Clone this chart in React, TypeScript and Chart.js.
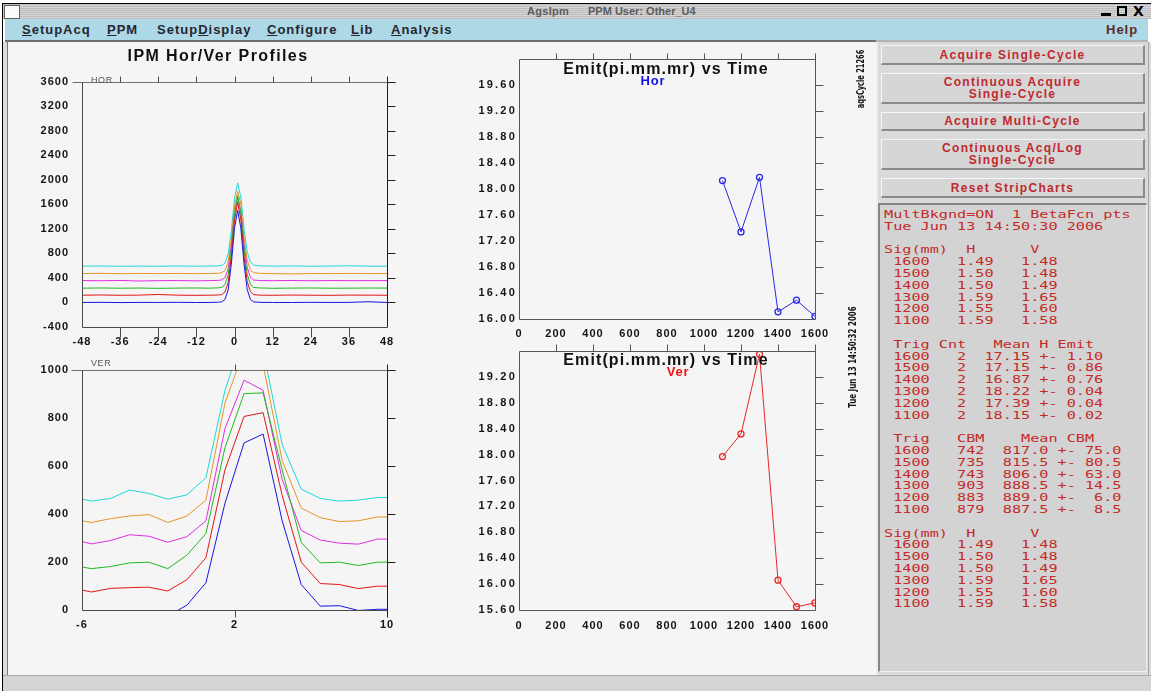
import React, { useEffect, useRef } from 'react';
import { Chart, registerables } from 'chart.js';

Chart.register(...registerables);

// ---------------- data ----------------
const HOR_X = [-48, -42, -36, -30, -24, -18, -12, -8, -5, -4, -3, -2, -1, 0, 1, 2, 3, 4, 5, 6, 8, 12, 18, 24, 30, 36, 42, 48];
const HOR_CYAN = [592, 594, 590, 593, 591, 594, 592, 593, 597, 605, 640, 790, 1160, 1700, 1950, 1720, 1200, 820, 660, 610, 596, 592, 595, 591, 593, 598, 592, 592];
const HOR_ORANGE = [471, 475, 468, 474, 470, 473, 469, 472, 476, 485, 520, 660, 1030, 1560, 1815, 1600, 1050, 690, 530, 485, 474, 470, 466, 471, 469, 474, 470, 471];
const HOR_MAGENTA = [356, 354, 358, 350, 355, 357, 352, 356, 360, 368, 405, 550, 920, 1450, 1710, 1470, 940, 570, 410, 366, 357, 355, 358, 354, 357, 355, 356, 356];
const HOR_GREEN = [233, 236, 232, 235, 230, 234, 236, 233, 238, 248, 290, 450, 860, 1450, 1740, 1460, 870, 460, 295, 245, 236, 231, 234, 236, 232, 233, 235, 234];
const HOR_RED = [118, 122, 117, 120, 130, 119, 116, 118, 122, 128, 170, 325, 745, 1335, 1630, 1350, 750, 340, 175, 128, 119, 117, 121, 118, 116, 120, 119, 118];
const HOR_BLUE = [0, 2, -2, 1, 0, 2, -1, 0, 4, 10, 48, 205, 625, 1210, 1500, 1210, 630, 210, 50, 10, 2, 0, -1, 2, 0, 1, 12, 0];

const VER_X = [-6, -5.5, -4.5, -3.5, -2.5, -1.5, -0.5, 0.5, 1.5, 2.5, 3.5, 4.5, 5.5, 6.5, 7.5, 8.5, 9.5, 10];
const VER_CYAN = [461, 453, 464, 499, 485, 461, 479, 550, 914, 1150, 1081, 689, 503, 464, 453, 457, 468, 468];
const VER_ORANGE = [371, 364, 380, 391, 397, 364, 391, 457, 861, 1080, 1020, 622, 424, 384, 368, 371, 387, 387];
const VER_MAGENTA = [285, 275, 289, 313, 307, 282, 305, 371, 755, 956, 914, 543, 331, 291, 278, 274, 295, 295];
const VER_GREEN = [179, 172, 181, 196, 199, 172, 228, 318, 675, 900, 903, 583, 281, 196, 199, 185, 199, 199];
const VER_RED = [83, 75, 90, 93, 95, 79, 126, 217, 583, 805, 821, 477, 199, 110, 106, 89, 99, 99];
const VER_BLUE = [-30, -35, -25, -20, -22, -25, 20, 113, 444, 695, 732, 371, 106, 16, 18, -2, 3, 3];

const EMIT_TIME = [1100, 1200, 1300, 1400, 1500, 1600];
const EMIT_HOR = [18.13, 17.34, 18.18, 16.11, 16.29, 16.04];
const EMIT_VER = [17.97, 18.32, 19.55, 16.06, 15.65, 15.71];

const HOR_Y_TICKS = [-400, 0, 400, 800, 1200, 1600, 2000, 2400, 2800, 3200, 3600];
const HOR_X_TICKS = [-48, -36, -24, -12, 0, 12, 24, 36, 48];
const VER_Y_TICKS = [0, 200, 400, 600, 800, 1000];
const VER_X_TICKS = [-6, 2, 10];
const TIME_TICKS = [0, 200, 400, 600, 800, 1000, 1200, 1400, 1600];
const EMIT_HOR_TICKS = [16.0, 16.4, 16.8, 17.2, 17.6, 18.0, 18.4, 18.8, 19.2, 19.6];
const EMIT_VER_TICKS = [15.6, 16.0, 16.4, 16.8, 17.2, 17.6, 18.0, 18.4, 18.8, 19.2];

const MENU_ITEMS = ['SetupAcq', 'PPM', 'SetupDisplay', 'Configure', 'Lib', 'Analysis'];
const BUTTON_LABELS = [
  ['Acquire Single-Cycle'],
  ['Continuous Acquire', 'Single-Cycle'],
  ['Acquire Multi-Cycle'],
  ['Continuous Acq/Log', 'Single-Cycle'],
  ['Reset StripCharts'],
];
const SIG_ROWS = [
  ' 1600   1.49   1.48',
  ' 1500   1.50   1.48',
  ' 1400   1.50   1.49',
  ' 1300   1.59   1.65',
  ' 1200   1.55   1.60',
  ' 1100   1.59   1.58',
];
const EMIT_ROWS = [
  ' 1600   2  17.15 +- 1.10',
  ' 1500   2  17.15 +- 0.86',
  ' 1400   2  16.87 +- 0.76',
  ' 1300   2  18.22 +- 0.04',
  ' 1200   2  17.39 +- 0.04',
  ' 1100   2  18.15 +- 0.02',
];
const CBM_ROWS = [
  ' 1600   742  817.0 +- 75.0',
  ' 1500   735  815.5 +- 80.5',
  ' 1400   743  806.0 +- 63.0',
  ' 1300   903  888.5 +- 14.5',
  ' 1200   883  889.0 +-  6.0',
  ' 1100   879  887.5 +-  8.5',
];
const PANEL_LINES = [
  'MultBkgnd=ON  1 BetaFcn pts',
  'Tue Jun 13 14:50:30 2006',
  '',
  'Sig(mm)  H      V',
  ...SIG_ROWS,
  '',
  ' Trig Cnt   Mean H Emit',
  ...EMIT_ROWS,
  '',
  ' Trig   CBM    Mean CBM',
  ...CBM_ROWS,
  '',
  'Sig(mm)  H      V',
  ...SIG_ROWS,
];

// ---------------- styles ----------------
const C_CYAN = '#22d6d6';
const C_ORANGE = '#e39526';
const C_MAGENTA = '#e02ce0';
const C_GREEN = '#22b822';
const C_RED = '#e01616';
const C_BLUE = '#1616e0';
const TICK_FONT = { family: '"Liberation Sans", Arial, sans-serif', size: 11, weight: 'bold' as const };

const framePlugin = {
  id: 'frame',
  beforeDraw(chart: any) {
    chart.ctx.letterSpacing = '1px';
  },
  afterDatasetsDraw(chart: any, _args: any, o: any) {
    chart.ctx.letterSpacing = o.ySpacing;
  },
  afterDraw(chart: any, _args: any, o: any) {
    const ctx = chart.ctx;
    ctx.letterSpacing = '0px';
    const a = chart.chartArea;
    const xs = chart.scales.x;
    const ys = chart.scales.y;
    const L = Math.round(a.left) + 0.5;
    const R = Math.round(a.right) + 0.5;
    const T = Math.round(a.top) + 0.5;
    const B = Math.round(a.bottom) + 0.5;
    ctx.save();
    ctx.lineWidth = 1;
    const seg = (x1: number, y1: number, x2: number, y2: number, c: string) => {
      ctx.strokeStyle = c;
      ctx.beginPath();
      ctx.moveTo(x1, y1);
      ctx.lineTo(x2, y2);
      ctx.stroke();
    };
    seg(L, T, L, B, o.axisColor);
    seg(L, B, R, B, o.axisColor);
    seg(L - o.topExtL, T, R + o.topExtR, T, o.topColor);
    seg(R, T - o.rightUp, R, B + o.rightDown, o.rightColor);
    ys.ticks.forEach((t: any) => {
      if (Math.abs(t.value - ys.min) < 1e-9) return;
      const y = Math.round(ys.getPixelForValue(t.value)) + 0.5;
      seg(R, y, R + o.rightLen, y, o.rightColor);
    });
    xs.ticks
      .filter((t: any) => t.value > xs.min + 1e-9 && t.value < xs.max - 1e-9)
      .forEach((t: any) => {
        const x = Math.round(xs.getPixelForValue(t.value)) + 0.5;
        seg(x, T, x, T - o.topLen, o.tickColor);
        if (o.bottomLen) seg(x, B, x, B + o.bottomLen, o.tickColor);
      });
    ctx.restore();
  },
};

function series(xs: number[], ys: number[]) {
  return xs.map((x, i) => ({ x, y: ys[i] }));
}

function profileSet(color: string, xs: number[], ys: number[]) {
  return {
    data: series(xs, ys),
    borderColor: color,
    borderWidth: 1,
    pointRadius: 0,
    tension: 0,
    fill: false,
  };
}

function emitSet(color: string, ys: number[]) {
  return {
    data: series(EMIT_TIME, ys),
    borderColor: color,
    borderWidth: 1,
    pointRadius: 3,
    pointBorderWidth: 1.3,
    pointBorderColor: color,
    pointBackgroundColor: 'rgba(0,0,0,0)',
    tension: 0,
    fill: false,
  };
}

function makeChart(canvas: HTMLCanvasElement, s: any) {
  return new Chart(canvas, {
    type: 'line',
    data: { datasets: s.datasets },
    options: {
      animation: false,
      responsive: false,
      maintainAspectRatio: false,
      events: [],
      layout: { autoPadding: false, padding: { left: 0, right: s.padRight, top: s.padTop, bottom: 0 } },
      plugins: {
        legend: { display: false },
        tooltip: { enabled: false },
        title: { display: false },
        frame: s.frame,
      } as any,
      scales: {
        x: {
          type: 'linear',
          position: 'bottom',
          min: s.xMin,
          max: s.xMax,
          grid: { display: false, drawTicks: false, tickLength: 0 },
          border: { display: false },
          ticks: {
            font: TICK_FONT,
            color: '#151515',
            padding: s.xPad,
            maxRotation: 0,
            autoSkip: false,
            callback: (v: any) => String(v),
          },
          afterBuildTicks: (sc: any) => {
            sc.ticks = s.xTicks.map((v: number) => ({ value: v }));
          },
          afterFit: (sc: any) => {
            sc.height = s.xHeight;
          },
        },
        y: {
          type: 'linear',
          position: 'left',
          min: s.yMin,
          max: s.yMax,
          grid: { display: false, drawTicks: false, tickLength: 0 },
          border: { display: false },
          ticks: {
            font: TICK_FONT,
            color: '#151515',
            padding: s.yPad,
            autoSkip: false,
            z: 1,
            callback: s.yFmt,
          },
          afterBuildTicks: (sc: any) => {
            sc.ticks = s.yTicks.map((v: number) => ({ value: v }));
          },
          afterFit: (sc: any) => {
            sc.width = s.yWidth;
          },
        },
      },
    } as any,
    plugins: [framePlugin as any],
  });
}

const profileFrame = (topExtL: number, rightDown: number, bottomLen: number) => ({
  axisColor: '#4a4a4a',
  topColor: '#707070',
  rightColor: '#1e1e1e',
  tickColor: '#4a4a4a',
  ySpacing: '1px',
  topExtL,
  topExtR: 8,
  rightUp: 6,
  rightDown,
  rightLen: 8,
  topLen: 6,
  bottomLen,
});

const emitFrame = (rightUp: number) => ({
  axisColor: '#555555',
  topColor: '#555555',
  rightColor: '#555555',
  tickColor: '#555555',
  ySpacing: '2.2px',
  topExtL: 0,
  topExtR: 0,
  rightUp,
  rightDown: 0,
  rightLen: 8,
  topLen: rightUp,
  bottomLen: 0,
});

const intFmt = (v: any) => String(v);
const fix2 = (v: any) => Number(v).toFixed(2);

const CHARTS = [
  {
    key: 'hor',
    left: 20, top: 62, width: 400, height: 288,
    spec: () => ({
      datasets: [
        profileSet(C_BLUE, HOR_X, HOR_BLUE),
        profileSet(C_RED, HOR_X, HOR_RED),
        profileSet(C_GREEN, HOR_X, HOR_GREEN),
        profileSet(C_MAGENTA, HOR_X, HOR_MAGENTA),
        profileSet(C_ORANGE, HOR_X, HOR_ORANGE),
        profileSet(C_CYAN, HOR_X, HOR_CYAN),
      ],
      xMin: -48, xMax: 48, yMin: -400, yMax: 3600,
      xTicks: HOR_X_TICKS, yTicks: HOR_Y_TICKS, yFmt: intFmt,
      padTop: 12, padRight: 33, yWidth: 62, xHeight: 23, xPad: 8, yPad: 13,
      frame: profileFrame(10, 0, 10),
    }),
  },
  {
    key: 'ver',
    left: 20, top: 350, width: 400, height: 290,
    spec: () => ({
      datasets: [
        profileSet(C_BLUE, VER_X, VER_BLUE),
        profileSet(C_RED, VER_X, VER_RED),
        profileSet(C_GREEN, VER_X, VER_GREEN),
        profileSet(C_MAGENTA, VER_X, VER_MAGENTA),
        profileSet(C_ORANGE, VER_X, VER_ORANGE),
        profileSet(C_CYAN, VER_X, VER_CYAN),
      ],
      xMin: -6, xMax: 10, yMin: 0, yMax: 1000,
      xTicks: VER_X_TICKS, yTicks: VER_Y_TICKS, yFmt: intFmt,
      padTop: 8, padRight: 33, yWidth: 62, xHeight: 30, xPad: 8, yPad: 13,
      frame: profileFrame(11, 7, 7),
    }),
  },
  {
    key: 'emitH',
    left: 460, top: 45, width: 400, height: 296,
    spec: () => ({
      datasets: [emitSet('#2828e6', EMIT_HOR)],
      xMin: 0, xMax: 1600, yMin: 16, yMax: 20,
      xTicks: TIME_TICKS, yTicks: EMIT_HOR_TICKS, yFmt: fix2,
      padTop: 14, padRight: 45, yWidth: 59, xHeight: 22, xPad: 8, yPad: 2,
      frame: emitFrame(6),
    }),
  },
  {
    key: 'emitV',
    left: 460, top: 341, width: 400, height: 299,
    spec: () => ({
      datasets: [emitSet('#e62828', EMIT_VER)],
      xMin: 0, xMax: 1600, yMin: 15.6, yMax: 19.6,
      xTicks: TIME_TICKS, yTicks: EMIT_VER_TICKS, yFmt: fix2,
      padTop: 10, padRight: 45, yWidth: 59, xHeight: 30, xPad: 9, yPad: 2,
      frame: emitFrame(7),
    }),
  },
];

function ChartCanvas(props: { left: number; top: number; width: number; height: number; spec: () => any }) {
  const ref = useRef<HTMLCanvasElement>(null);
  useEffect(() => {
    if (!ref.current) return;
    const chart = makeChart(ref.current, props.spec());
    return () => chart.destroy();
  }, []);
  return (
    <canvas
      ref={ref}
      width={props.width}
      height={props.height}
      style={{ position: 'absolute', left: props.left, top: props.top, width: props.width, height: props.height }}
    />
  );
}

const abs = (o: React.CSSProperties): React.CSSProperties => ({ position: 'absolute', ...o });

const BUTTON_BOXES = [
  { top: 45, height: 20 },
  { top: 73, height: 31 },
  { top: 112, height: 19 },
  { top: 139, height: 31 },
  { top: 178, height: 20 },
];
const MENU_LEFTS = [22, 107, 157, 267, 351, 391];
const MENU_UNDERLINE = [0, 0, 5, 0, 0, 0];

export default function App() {
  const menuFont = 'bold 13px "Liberation Sans", Arial, sans-serif';
  const titleFont = 'bold 11px "Liberation Sans", Arial, sans-serif';
  const rotFont = 'bold 10px "Liberation Sans Narrow", "DejaVu Sans Condensed", sans-serif';
  return (
    <div style={abs({ left: 0, top: 0, width: 1151, height: 691, overflow: 'hidden', background: '#ffffff', fontFamily: '"Liberation Sans", Arial, sans-serif' })}>
      {/* window frame */}
      <div style={abs({ left: 2, top: 3, width: 1149, height: 1, background: '#000' })} />
      <div style={abs({ left: 2, top: 3, width: 1, height: 688, background: '#000' })} />
      {/* title bar */}
      <div
        style={abs({
          left: 3, top: 4, width: 1148, height: 15,
          background: 'repeating-linear-gradient(180deg, #bcbcbc 0px, #bcbcbc 1px, #d6d6d6 1px, #d6d6d6 2px)',
        })}
      />
      <div style={abs({ left: 4, top: 5, width: 14, height: 12, background: '#fbfbfb', border: '1px solid #606060' })} />
      <div style={abs({ left: 527, top: 4, height: 15, font: titleFont, lineHeight: '15px', letterSpacing: '0.3px', color: '#5c5c5c', whiteSpace: 'pre' })}>
        AgsIpm
      </div>
      <div style={abs({ left: 588, top: 4, height: 15, font: titleFont, lineHeight: '15px', letterSpacing: '0px', color: '#5c5c5c', whiteSpace: 'pre' })}>
        PPM User: Other_U4
      </div>
      <div style={abs({ left: 1101, top: 13, width: 10, height: 3, background: '#000' })} />
      <div style={abs({ left: 1117, top: 6, width: 10, height: 10, border: '2px solid #000', boxSizing: 'border-box' })} />
      <div style={abs({ left: 1133, top: 3, font: 'bold 14px "DejaVu Sans", sans-serif', lineHeight: '16px', color: '#000' })}>X</div>

      {/* menu bar */}
      <div style={abs({ left: 5, top: 19, width: 1143, height: 21, background: '#add8e6' })} />
      <div style={abs({ left: 5, top: 40, width: 871, height: 2, background: '#6e6e6e' })} />
      <div style={abs({ left: 876, top: 40, width: 272, height: 2, background: '#b4b4b4' })} />
      {MENU_ITEMS.map((m, i) => (
        <div key={m} style={abs({ left: MENU_LEFTS[i], top: 19, font: menuFont, lineHeight: '22px', letterSpacing: '1px', color: '#262630', whiteSpace: 'pre' })}>
          {m.slice(0, MENU_UNDERLINE[i])}
          <span style={{ textDecoration: 'underline' }}>{m[MENU_UNDERLINE[i]]}</span>
          {m.slice(MENU_UNDERLINE[i] + 1)}
        </div>
      ))}
      <div style={abs({ left: 1106, top: 19, font: menuFont, lineHeight: '22px', letterSpacing: '1px', color: '#5e2a2a' })}>Help</div>

      {/* main plotting area */}
      <div style={abs({ left: 3, top: 42, width: 5, height: 633, background: '#dcdcdc' })} />
      <div style={abs({ left: 7, top: 42, width: 1, height: 633, background: '#7a7a7a' })} />
      <div style={abs({ left: 8, top: 42, width: 868, height: 633, background: '#f5f5f5' })} />

      {/* right control panel */}
      <div style={abs({ left: 876, top: 42, width: 275, height: 633, background: '#dadada' })} />
      <div style={abs({ left: 876, top: 42, width: 2, height: 633, background: '#ededed' })} />
      <div style={abs({ left: 1148, top: 42, width: 1, height: 633, background: '#a8a8a8' })} />
      {BUTTON_LABELS.map((lines, i) => (
        <div
          key={i}
          style={abs({
            left: 881, top: BUTTON_BOXES[i].top, width: 264, height: BUTTON_BOXES[i].height,
            boxSizing: 'border-box', background: '#d6d6d6',
            borderTop: '1px solid #f6f6f6', borderLeft: '1px solid #f6f6f6',
            borderBottom: '2px solid #8a8a8a', borderRight: '2px solid #8a8a8a',
            display: 'flex', flexDirection: 'column', justifyContent: 'center', alignItems: 'center',
            font: 'bold 12px "Liberation Sans", Arial, sans-serif', letterSpacing: '1.3px', lineHeight: '12px',
            color: '#c0282e',
          })}
        >
          {lines.map((l) => (
            <div key={l}>{l}</div>
          ))}
        </div>
      ))}
      <div
        style={abs({
          left: 878, top: 203, width: 269, height: 469, boxSizing: 'border-box', background: '#d3d3d3',
          borderTop: '2px solid #858585', borderLeft: '2px solid #858585',
          borderBottom: '1px solid #f0f0f0', borderRight: '1px solid #f0f0f0',
        })}
      />
      <div
        style={abs({
          left: 884, top: 209, whiteSpace: 'pre', font: '10.5px "DejaVu Sans Mono", monospace', lineHeight: '11.8px',
          color: '#c42a2a', transform: 'scaleX(1.445)', transformOrigin: '0 0',
        })}
      >
        {PANEL_LINES.join('\n')}
      </div>

      {/* status bar */}
      <div style={abs({ left: 3, top: 675, width: 1148, height: 16, background: '#d4d4d4', borderTop: '1px solid #a9a9a9', boxSizing: 'border-box' })} />

      {/* charts */}
      {CHARTS.map((c) => (
        <ChartCanvas key={c.key} left={c.left} top={c.top} width={c.width} height={c.height} spec={c.spec} />
      ))}

      {/* chart titles and annotations */}
      <div style={abs({ left: 68, top: 47, width: 300, textAlign: 'center', font: 'bold 16px "Liberation Sans", Arial, sans-serif', letterSpacing: '1.4px', lineHeight: '18px', color: '#111' })}>
        IPM Hor/Ver Profiles
      </div>
      <div style={abs({ left: 91, top: 75, font: '9px "Liberation Sans", Arial, sans-serif', letterSpacing: '0.6px', lineHeight: '10px', color: '#555' })}>HOR</div>
      <div style={abs({ left: 91, top: 358, font: '9px "Liberation Sans", Arial, sans-serif', letterSpacing: '0.6px', lineHeight: '10px', color: '#555' })}>VER</div>

      <div style={abs({ left: 516, top: 60, width: 300, textAlign: 'center', font: 'bold 16px "Liberation Sans", Arial, sans-serif', letterSpacing: '1.1px', lineHeight: '18px', color: '#111' })}>
        Emit(pi.mm.mr) vs Time
      </div>
      <div style={abs({ left: 603, top: 74, width: 100, textAlign: 'center', font: 'bold 13px "Liberation Sans", Arial, sans-serif', letterSpacing: '0.8px', lineHeight: '14px', color: '#1010f0' })}>Hor</div>
      <div style={abs({ left: 516, top: 351, width: 300, textAlign: 'center', font: 'bold 16px "Liberation Sans", Arial, sans-serif', letterSpacing: '1.1px', lineHeight: '18px', color: '#111' })}>
        Emit(pi.mm.mr) vs Time
      </div>
      <div style={abs({ left: 628, top: 365, width: 100, textAlign: 'center', font: 'bold 13px "Liberation Sans", Arial, sans-serif', letterSpacing: '0.8px', lineHeight: '14px', color: '#f01010' })}>Ver</div>

      <div style={abs({ left: 861 - 60, top: 79 - 6, width: 120, height: 12, textAlign: 'center', transform: 'rotate(-90deg) scaleX(0.74)', font: rotFont, lineHeight: '12px', color: '#111', whiteSpace: 'pre' })}>
        aqsCycle 21266
      </div>
      <div style={abs({ left: 853 - 70, top: 357 - 6, width: 140, height: 12, textAlign: 'center', transform: 'rotate(-90deg) scaleX(0.79)', font: rotFont, lineHeight: '12px', color: '#111', whiteSpace: 'pre' })}>
        Tue Jun 13 14:50:32 2006
      </div>
    </div>
  );
}
